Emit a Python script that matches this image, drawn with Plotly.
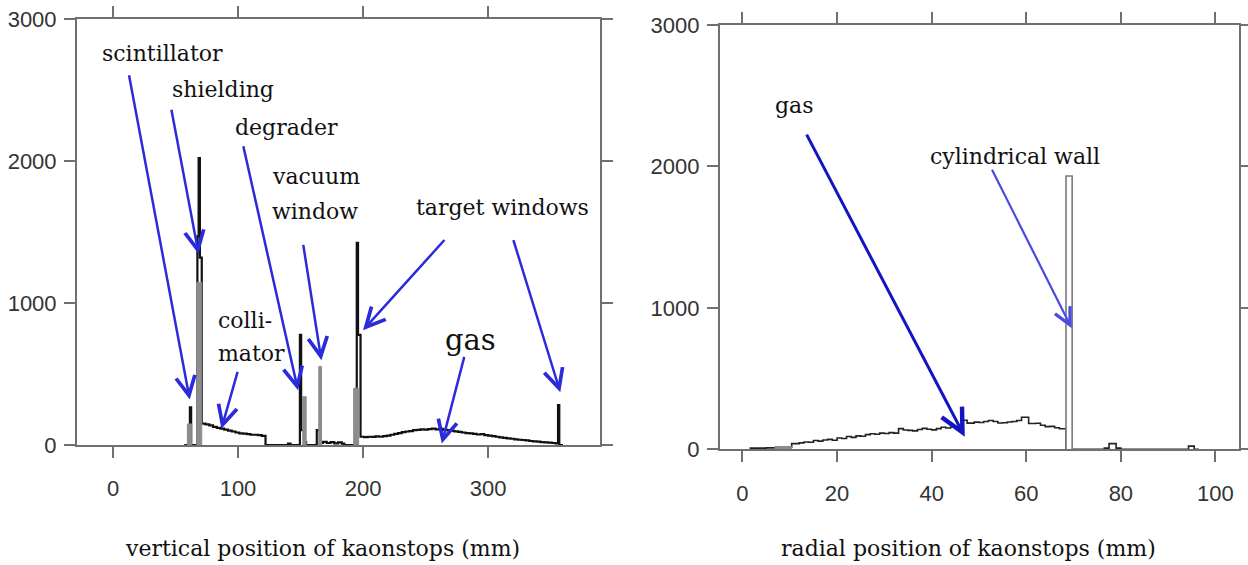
import plotly.graph_objects as go

# ---------------- data ----------------
# Left panel: black histogram, left bin edges (mm) and counts
left_black_x = [57, 61.5, 62.5, 67.5, 68.5, 69.5, 71, 74, 77, 80, 83, 86, 89, 92, 95, 98, 101, 104,
                107, 110, 113, 116, 119, 122, 140, 142, 149.5, 150.5, 153.5, 154.5,
                163, 165.5, 168, 171, 174, 177, 180, 183, 185, 195, 196, 198,
                201, 204, 207, 210, 213, 216, 219, 222, 225, 228, 231, 234, 237, 240, 243, 246,
                249, 252, 255, 258, 261, 264, 267, 270, 273, 276, 279, 282, 285, 288, 291, 294,
                297, 300, 303, 306, 309, 312, 315, 318, 321, 324, 327, 330, 333, 336, 339, 342,
                345, 348, 351, 354, 356, 357, 360]
left_black_y = [0, 265, 0, 1470, 2020, 1320, 150, 145, 138, 128, 121, 115, 108, 101, 95, 88, 82, 80,
                76, 72, 72, 70, 64, 0, 10, 0, 775, 105, 20, 0,
                105, 15, 22, 14, 20, 12, 18, 10, 0, 1423, 775, 58,
                56, 58, 57, 60, 58, 62, 66, 72, 78, 84, 90, 95, 98, 104, 106, 110,
                108, 112, 115, 110, 113, 106, 104, 100, 96, 92, 88, 84, 82, 78, 74, 76,
                70, 66, 63, 58, 54, 50, 47, 44, 40, 37, 35, 33, 28, 26, 24, 20,
                18, 16, 14, 12, 281, 0, 0]

# Left panel: grey spikes (bin start, bin end, counts)
left_grey_x0 = [59.5, 67.0, 151.8, 164.6, 192.5]
left_grey_x1 = [63.0, 71.0, 154.5, 166.8, 196.5]
left_grey_y = [148, 1145, 340, 553, 400]

# Right panel: black histogram (left bin edges, counts)
right_black_x = [1.5, 3, 5, 7, 10.4, 12, 13, 14, 15, 16, 17, 18, 19, 20, 21, 22, 23, 24, 25, 26,
                 27, 28, 29, 30, 31, 32, 33, 34, 35, 36, 37, 38, 39, 40, 41, 42, 43, 44, 45, 46,
                 46.5, 47.5, 49, 50, 51, 52, 53, 54, 55, 56, 57, 58, 59, 60.5, 62, 63, 64, 65,
                 66, 67, 68.4,
                 76.5, 77.5, 79, 80, 94.3, 95.5, 96.5]
right_black_y = [8, 8, 10, 14, 40, 45, 52, 50, 62, 58, 66, 70, 64, 80, 76, 90, 84, 95, 92, 104,
                 110, 106, 114, 112, 118, 114, 146, 136, 134, 130, 140, 148, 142, 137, 146, 156, 150, 158, 160, 165,
                 205, 185, 192, 189, 196, 203, 196, 186, 188, 193, 196, 203, 226, 182, 184, 170, 160, 162,
                 152, 145, 0,
                 8, 40, 8, 0, 22, 0, 0]

# Right panel: grey bins
right_grey_x0 = [6.9]
right_grey_x1 = [10.4]
right_grey_y = [20]

# Right panel: cylindrical wall bin (outlined)
wall_x0 = [68.4]
wall_x1 = [69.7]
wall_y = [1932]

left_xticks = [0, 100, 200, 300]
right_xticks = [0, 20, 40, 60, 80, 100]
yticks = [0, 1000, 2000, 3000]

left_xtitle = "vertical position of kaonstops (mm)"
right_xtitle = "radial position of kaonstops (mm)"

# ---------------- helpers ----------------
def boxes(x0s, x1s, ys):
    xs, yy = [], []
    for a, b, h in zip(x0s, x1s, ys):
        xs += [a, a, b, b, None]
        yy += [0, h, h, 0, None]
    return xs, yy

GREY = "#8c8c8c"
AX = "#707070"
BLUE = "#2b2bdc"

fig = go.Figure()

fig.add_trace(go.Scatter(x=left_black_x, y=left_black_y, mode="lines", line_shape="hv",
                         line=dict(color="#111111", width=2.2), xaxis="x", yaxis="y",
                         showlegend=False, hoverinfo="skip"))
gx, gy = boxes(left_grey_x0, left_grey_x1, left_grey_y)
fig.add_trace(go.Scatter(x=gx, y=gy, mode="lines", fill="toself", fillcolor=GREY,
                         line=dict(color=GREY, width=1), xaxis="x", yaxis="y",
                         showlegend=False, hoverinfo="skip"))

fig.add_trace(go.Scatter(x=right_black_x, y=right_black_y, mode="lines", line_shape="hv",
                         line=dict(color="#222222", width=1.6), xaxis="x2", yaxis="y2",
                         showlegend=False, hoverinfo="skip"))
gx, gy = boxes(right_grey_x0, right_grey_x1, right_grey_y)
fig.add_trace(go.Scatter(x=gx, y=gy, mode="lines", fill="toself", fillcolor=GREY,
                         line=dict(color=GREY, width=1), xaxis="x2", yaxis="y2",
                         showlegend=False, hoverinfo="skip"))
wx, wy = boxes(wall_x0, wall_x1, wall_y)
fig.add_trace(go.Scatter(x=wx, y=wy, mode="lines", fill="toself", fillcolor="white",
                         line=dict(color="#7a7a7a", width=1.6), xaxis="x2", yaxis="y2",
                         showlegend=False, hoverinfo="skip"))

tickfont = dict(family="Liberation Sans Narrow, Arial Narrow, Liberation Sans, Arial, sans-serif",
                size=22, color="#333333")
common = dict(showline=True, linecolor=AX, linewidth=2, mirror="ticks", ticks="outside",
              tickcolor=AX, tickwidth=2, ticklen=11, showgrid=False, zeroline=False,
              tickfont=tickfont, fixedrange=True)

fig.update_layout(
    width=1248, height=565, margin=dict(l=0, r=0, t=0, b=0, autoexpand=False),
    paper_bgcolor="white", plot_bgcolor="white", showlegend=False,
    xaxis=dict(common, range=[-28.8, 389.6], tickvals=left_xticks, domain=[0.0617, 0.4808],
               anchor="y", ticklabelstandoff=12),
    yaxis=dict(common, range=[0, 3000], tickvals=yticks, domain=[0.2124, 0.9664],
               anchor="x", ticklabelstandoff=3),
    xaxis2=dict(common, range=[-4.76, 104.9], tickvals=right_xticks, domain=[0.5769, 0.9925],
                anchor="y2", ticklabelstandoff=12),
    yaxis2=dict(common, range=[0, 3000], tickvals=yticks, domain=[0.2048, 0.9558],
                anchor="x2", ticklabelstandoff=3),
)

SERIF = "DejaVu Serif, Liberation Serif, serif"
tfont = dict(family=SERIF, size=22, color="#111111")

def label(text, x, y, xr, yr, size=22, xanchor="center", bg=None, pad=1):
    fig.add_annotation(text=text, x=x, y=y, xref=xr, yref=yr, showarrow=False,
                       font=dict(family=SERIF, size=size, color="#111111"),
                       xanchor=xanchor, yanchor="middle",
                       bgcolor=bg if bg else "rgba(0,0,0,0)", borderpad=pad)

def arrow(x, y, ax, ay, xr, yr, color=BLUE, width=2.5):
    fig.add_annotation(text="", x=x, y=y, ax=ax, ay=ay, xref=xr, yref=yr, axref=xr, ayref=yr,
                       showarrow=True, arrowhead=5, arrowsize=1.5, arrowwidth=width,
                       arrowcolor=color, standoff=0, startstandoff=0)

# left panel labels
label("scintillator", 39.8, 2756, "x", "y")
label("shielding", 88.2, 2502, "x", "y")
label("degrader", 138.6, 2234, "x", "y")
label("vacuum", 125.4, 1888, "x", "y", xanchor="left")
label("window", 125.4, 1641, "x", "y", xanchor="left")
label("target windows", 311.8, 1669, "x", "y", bg="white", pad=10)
label("colli-", 82.6, 879, "x", "y", xanchor="left")
label("mator", 82.2, 646, "x", "y", xanchor="left")
label("gas", 286.2, 737, "x", "y", size=29)

# left panel arrows (head x, head y, tail x, tail y)
arrow(61.4, 320, 12.6, 2614, "x", "y")
arrow(68.5, 1345, 46.5, 2372, "x", "y")
arrow(148.0, 385, 104.0, 2114, "x", "y")
arrow(166.7, 596, 152.0, 1420, "x", "y")
arrow(200.0, 808, 266.2, 1454, "x", "y")
arrow(357.8, 372, 319.9, 1454, "x", "y")
arrow(86.7, 114, 100.0, 526, "x", "y")
arrow(263.0, 10, 281.3, 631, "x", "y")

# right panel labels and arrows
label("gas", 11.0, 2434, "x2", "y2")
label("cylindrical wall", 57.6, 2067, "x2", "y2")
arrow(47.0, 89, 13.4, 2235, "x2", "y2", color="#1414c0", width=3)
arrow(69.6, 856, 52.6, 1987, "x2", "y2", color="#4a4ae0", width=2.2)

# axis titles
fig.add_annotation(text=left_xtitle, x=322 / 1248, y=(565 - 548) / 565, xref="paper", yref="paper",
                   showarrow=False, font=tfont, xanchor="center", yanchor="middle")
fig.add_annotation(text=right_xtitle, x=968.5 / 1248, y=(565 - 548) / 565, xref="paper", yref="paper",
                   showarrow=False, font=tfont, xanchor="center", yanchor="middle")

fig.write_html("out.html", config={"displayModeBar": False},
               post_script="document.body.style.margin='0';document.body.style.overflow='hidden';")
